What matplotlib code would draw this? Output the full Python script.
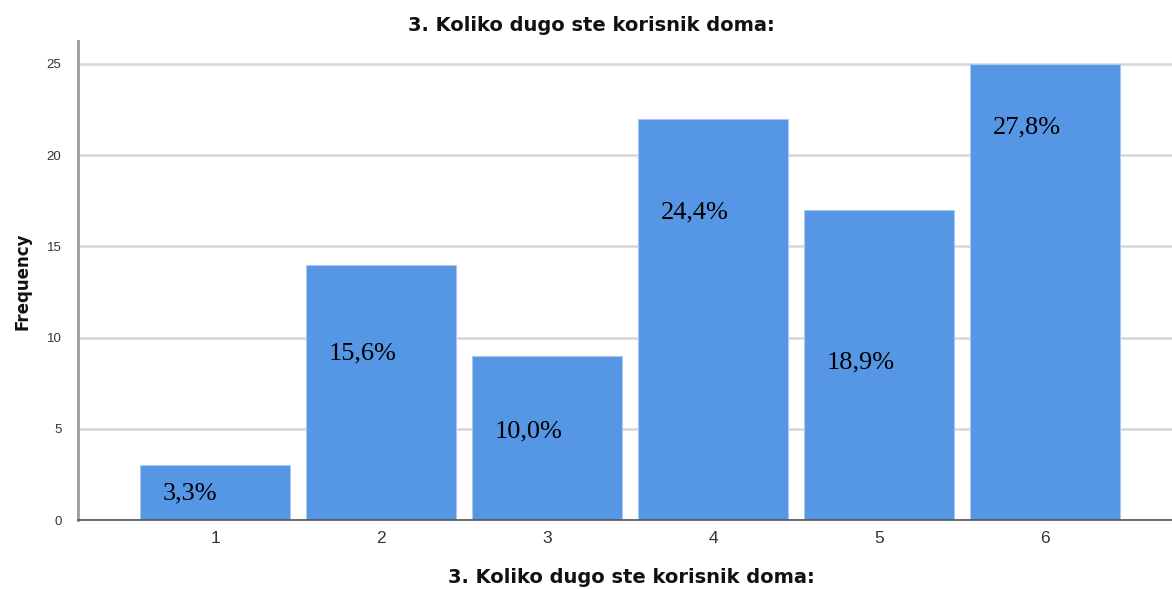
import matplotlib
matplotlib.use("Agg")
import matplotlib.pyplot as plt

categories = [1, 2, 3, 4, 5, 6]
frequency = [3, 14, 9, 22, 17, 25]
percent_labels = ["3,3%", "15,6%", "10,0%", "24,4%", "18,9%", "27,8%"]
y_ticks = [0, 5, 10, 15, 20, 25]
title = "3. Koliko dugo ste korisnik doma:"
xlabel = "3. Koliko dugo ste korisnik doma:"
ylabel = "Frequency"

# layout: vertical placement of the (manually placed) percentage labels
label_y = [1.45, 9.15, 4.85, 16.85, 8.65, 21.5]

fig = plt.figure(figsize=(11.72, 5.89), dpi=100)
ax = fig.add_axes([0.0666, 0.1171, 0.9334, 0.8133])

ax.set_axisbelow(True)
ax.yaxis.grid(True, color="#d6d6d6", linewidth=1.8)
bars = ax.bar(categories, frequency, width=0.9, color="#5596e5",
              edgecolor="#a9c9f2", linewidth=0.8, zorder=2)

for c, lab, ly in zip(categories, percent_labels, label_y):
    ax.text(c - 0.45 + 0.135, ly, lab, ha="left", va="center",
            family="Liberation Serif", fontsize=19, color="black", zorder=3)

ax.set_xlim(0.175, 6.765)
ax.set_ylim(0, 26.26)
ax.set_xticks(categories)
ax.set_yticks(y_ticks)
ax.tick_params(axis="x", length=0, labelsize=12.5, colors="#333333", pad=8)
ax.tick_params(axis="y", length=0, labelsize=9.5, colors="#333333", pad=12)
for t in ax.get_xticklabels() + ax.get_yticklabels():
    t.set_family("Liberation Sans")

for s in ["top", "right"]:
    ax.spines[s].set_visible(False)
ax.spines["left"].set_color("#9a9a9a")
ax.spines["left"].set_linewidth(2)
ax.spines["bottom"].set_color("#555555")
ax.spines["bottom"].set_linewidth(1.2)

fig.text(0.505, 0.957, title, ha="center", va="center",
         family="DejaVu Sans", fontweight="bold", fontsize=14, color="#111111")
fig.text(0.539, 0.019, xlabel, ha="center", va="center",
         family="DejaVu Sans", fontweight="bold", fontsize=14, color="#111111")
fig.text(0.019, 0.522, ylabel, ha="center", va="center", rotation=90,
         family="DejaVu Sans", fontweight="bold", fontsize=12, color="#111111")

fig.savefig("out.png", dpi=100)
